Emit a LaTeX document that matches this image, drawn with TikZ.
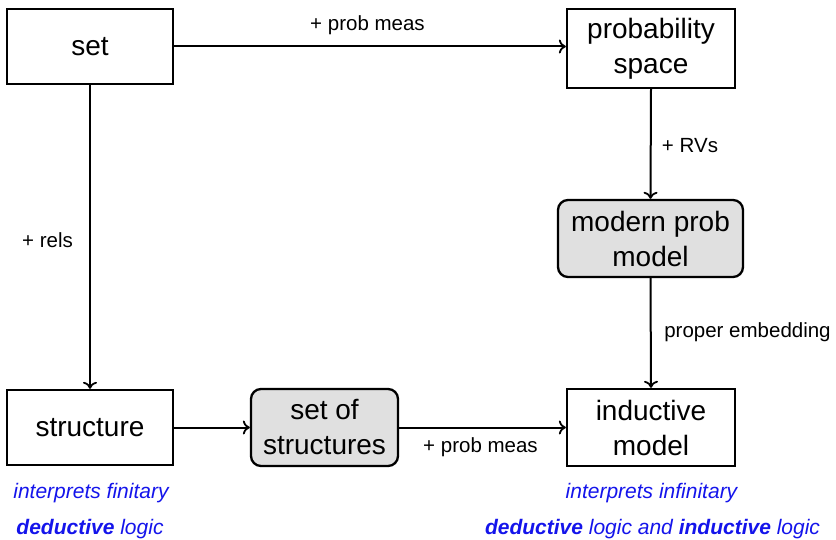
\documentclass[tikz,border=0pt]{standalone}
\usepackage{fontspec}
\setmainfont{Liberation Sans}
\usetikzlibrary{arrows.meta}
\definecolor{boxgray}{RGB}{224,224,224}
\definecolor{noteblue}{RGB}{20,20,235}
\begin{document}
\begin{tikzpicture}[x=1pt,y=-1pt,
  big/.style={font=\fontsize{28}{35}\selectfont},
  small/.style={font=\fontsize{20.5}{24}\selectfont,inner sep=0pt},
  plainbox/.style={draw,line width=2.3pt,inner sep=0pt,align=center,big},
  graybox/.style={plainbox,fill=boxgray,rounded corners=10pt},
  conn/.style={line width=2pt,-{To[length=7pt,width=14pt,line width=1.8pt]}},
  note/.style={font=\fontsize{21}{24}\selectfont\itshape,text=noteblue,inner sep=0pt}]
\useasboundingbox (0,0) rectangle (836,540);
\node[plainbox,minimum width=166,minimum height=75] (set) at (90,46.5) {set};
\node[plainbox,minimum width=168,minimum height=79] (prob) at (651,48.5) {probability\\space};
\node[graybox,minimum width=185,minimum height=77] (modern) at (650.5,238.5) {modern prob\\model};
\node[plainbox,minimum width=166,minimum height=75] (struct) at (90,427.5) {structure};
\node[graybox,minimum width=147,minimum height=77] (sos) at (324.5,427.5) {set of\\structures};
\node[plainbox,minimum width=168,minimum height=77] (ind) at (651,427.5) {inductive\\model};
\draw[conn] (set.east) -- (prob.west |- set.east);
\draw[conn] (prob.south) -- (modern.north);
\draw[conn] (modern.south) -- (ind.north);
\draw[conn] (set.south) -- (struct.north);
\draw[conn] (struct.east) -- (sos.west);
\draw[conn] (sos.east) -- (ind.west);
\node[small] (l1) at (367.5,25) {+ prob meas};
\node[small] (l2) at (690,146) {+ RVs};
\node[small] (l3) at (47.5,240) {+ rels};
\node[small] (l4) at (747.5,332) {proper embedding};
\node[small] (l5) at (480.5,447) {+ prob meas};
\node[note] (n1) at (91,493) {interprets finitary};
\node[note] (n2) at (90,529) {\textbf{deductive} logic};
\node[note] (n3) at (651.5,493) {interprets infinitary};
\node[note] (n4) at (652.5,529) {\textbf{deductive} logic and \textbf{inductive} logic};
\end{tikzpicture}
\end{document}
